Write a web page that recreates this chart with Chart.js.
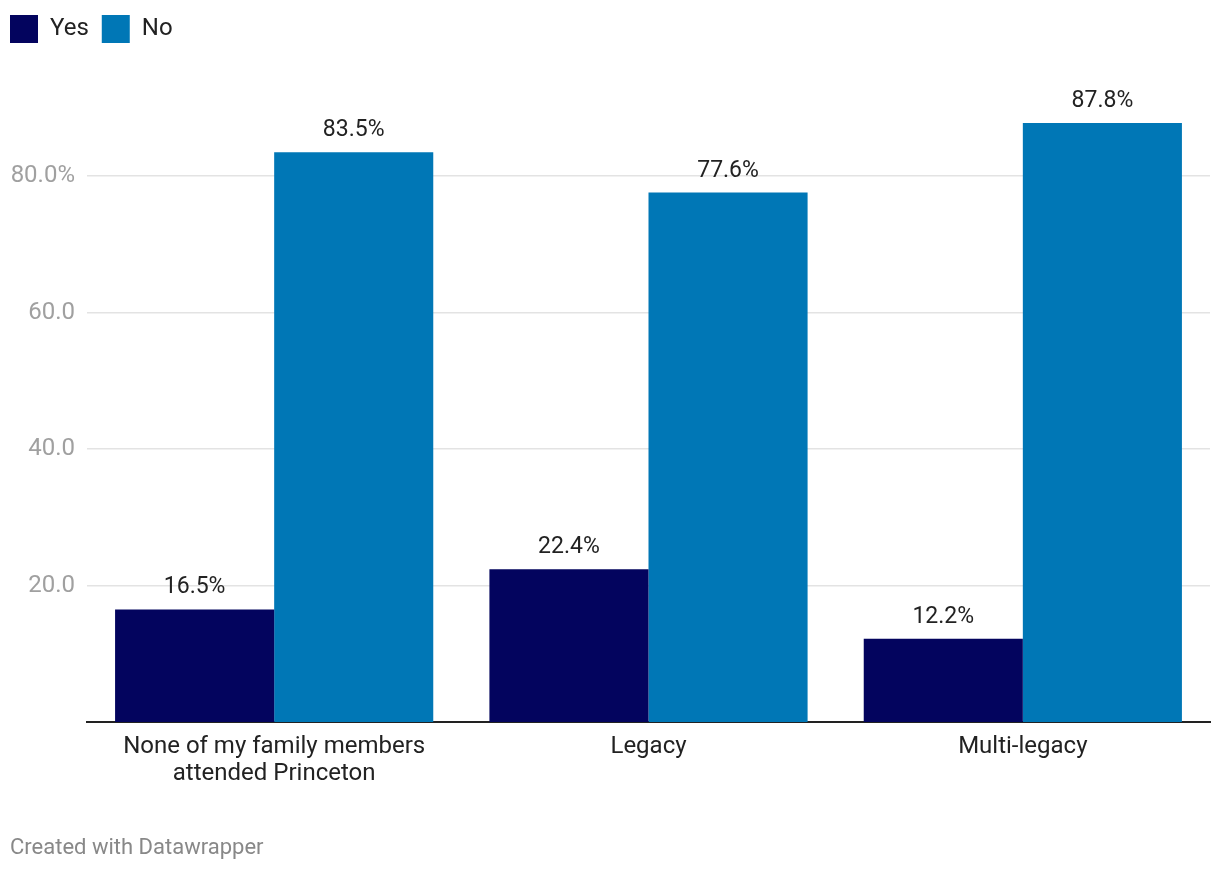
<!DOCTYPE html>
<html>
<head>
<meta charset="utf-8">
<script src="https://cdn.jsdelivr.net/npm/chart.js@4"></script>
<style>
  body { margin: 0; background: #fff; font-family: Roboto, sans-serif; }
  #wrap { position: relative; width: 1220px; height: 872px; }
  #footer { position: absolute; left: 10px; top: 834px; font-size: 22px; color: #888; }
</style>
</head>
<body>
<div id="wrap">
  <canvas id="chart" width="1220" height="872"></canvas>
  <div id="footer">Created with Datawrapper</div>
</div>
<script>
// datos
const categorias = [["None of my family members", "attended Princeton"], "Legacy", "Multi-legacy"];
const valoresSi = [16.5, 22.4, 12.2];
const valoresNo = [83.5, 77.6, 87.8];
const ticksY = [20, 40, 60, 80];

Chart.defaults.font.family = "Roboto, sans-serif";

// etiquetas de valor encima de cada barra
const etiquetas = {
  id: "etiquetas",
  afterDatasetsDraw(chart) {
    const ctx = chart.ctx;
    ctx.save();
    ctx.font = "23px Roboto, sans-serif";
    ctx.fillStyle = "#222";
    ctx.textAlign = "center";
    ctx.textBaseline = "alphabetic";
    chart.data.datasets.forEach((ds, i) => {
      chart.getDatasetMeta(i).data.forEach((bar, j) => {
        ctx.fillText(ds.data[j].toFixed(1) + "%", bar.x, bar.y - 16);
      });
    });
    ctx.restore();
  }
};

// espacio fijo bajo la leyenda
const altoLeyenda = {
  id: "altoLeyenda",
  beforeInit(chart) {
    const fit = chart.legend.fit;
    chart.legend.fit = function () {
      fit.call(this);
      this.height = 106;
    };
  }
};

new Chart(document.getElementById("chart").getContext("2d"), {
  type: "bar",
  data: {
    labels: categorias,
    datasets: [
      { label: "Yes", data: valoresSi, backgroundColor: "#03045e" },
      { label: "No", data: valoresNo, backgroundColor: "#0077b6" }
    ]
  },
  options: {
    responsive: false,
    animation: false,
    layout: { padding: { top: 2, left: -3, right: 10, bottom: 0 } },
    datasets: { bar: { categoryPercentage: 0.85, barPercentage: 1 } },
    plugins: {
      legend: {
        position: "top",
        align: "start",
        labels: {
          boxWidth: 28,
          boxHeight: 28,
          padding: 13,
          color: "#222",
          font: { size: 24 }
        }
      },
      tooltip: { enabled: false }
    },
    scales: {
      x: {
        grid: { display: false, drawTicks: false },
        border: { color: "#222", width: 2 },
        ticks: { color: "#222", font: { size: 24, lineHeight: 1.15 }, padding: 11, maxRotation: 0 },
        afterFit(scale) { scale.height = 150; }
      },
      y: {
        min: 0,
        max: 90,
        grid: { color: "#e3e3e3", drawTicks: false, lineWidth: 1.5 },
        border: { display: false },
        ticks: {
          color: "#a0a0a0",
          font: { size: 24 },
          padding: 12,
          callback: (v) => (v === 80 ? v.toFixed(1) + "%" : v.toFixed(1))
        },
        afterBuildTicks(scale) {
          scale.ticks = ticksY.map((v) => ({ value: v }));
        },
        afterFit(scale) { scale.width = 90; }
      }
    }
  },
  plugins: [etiquetas, altoLeyenda]
});
</script>
</body>
</html>
